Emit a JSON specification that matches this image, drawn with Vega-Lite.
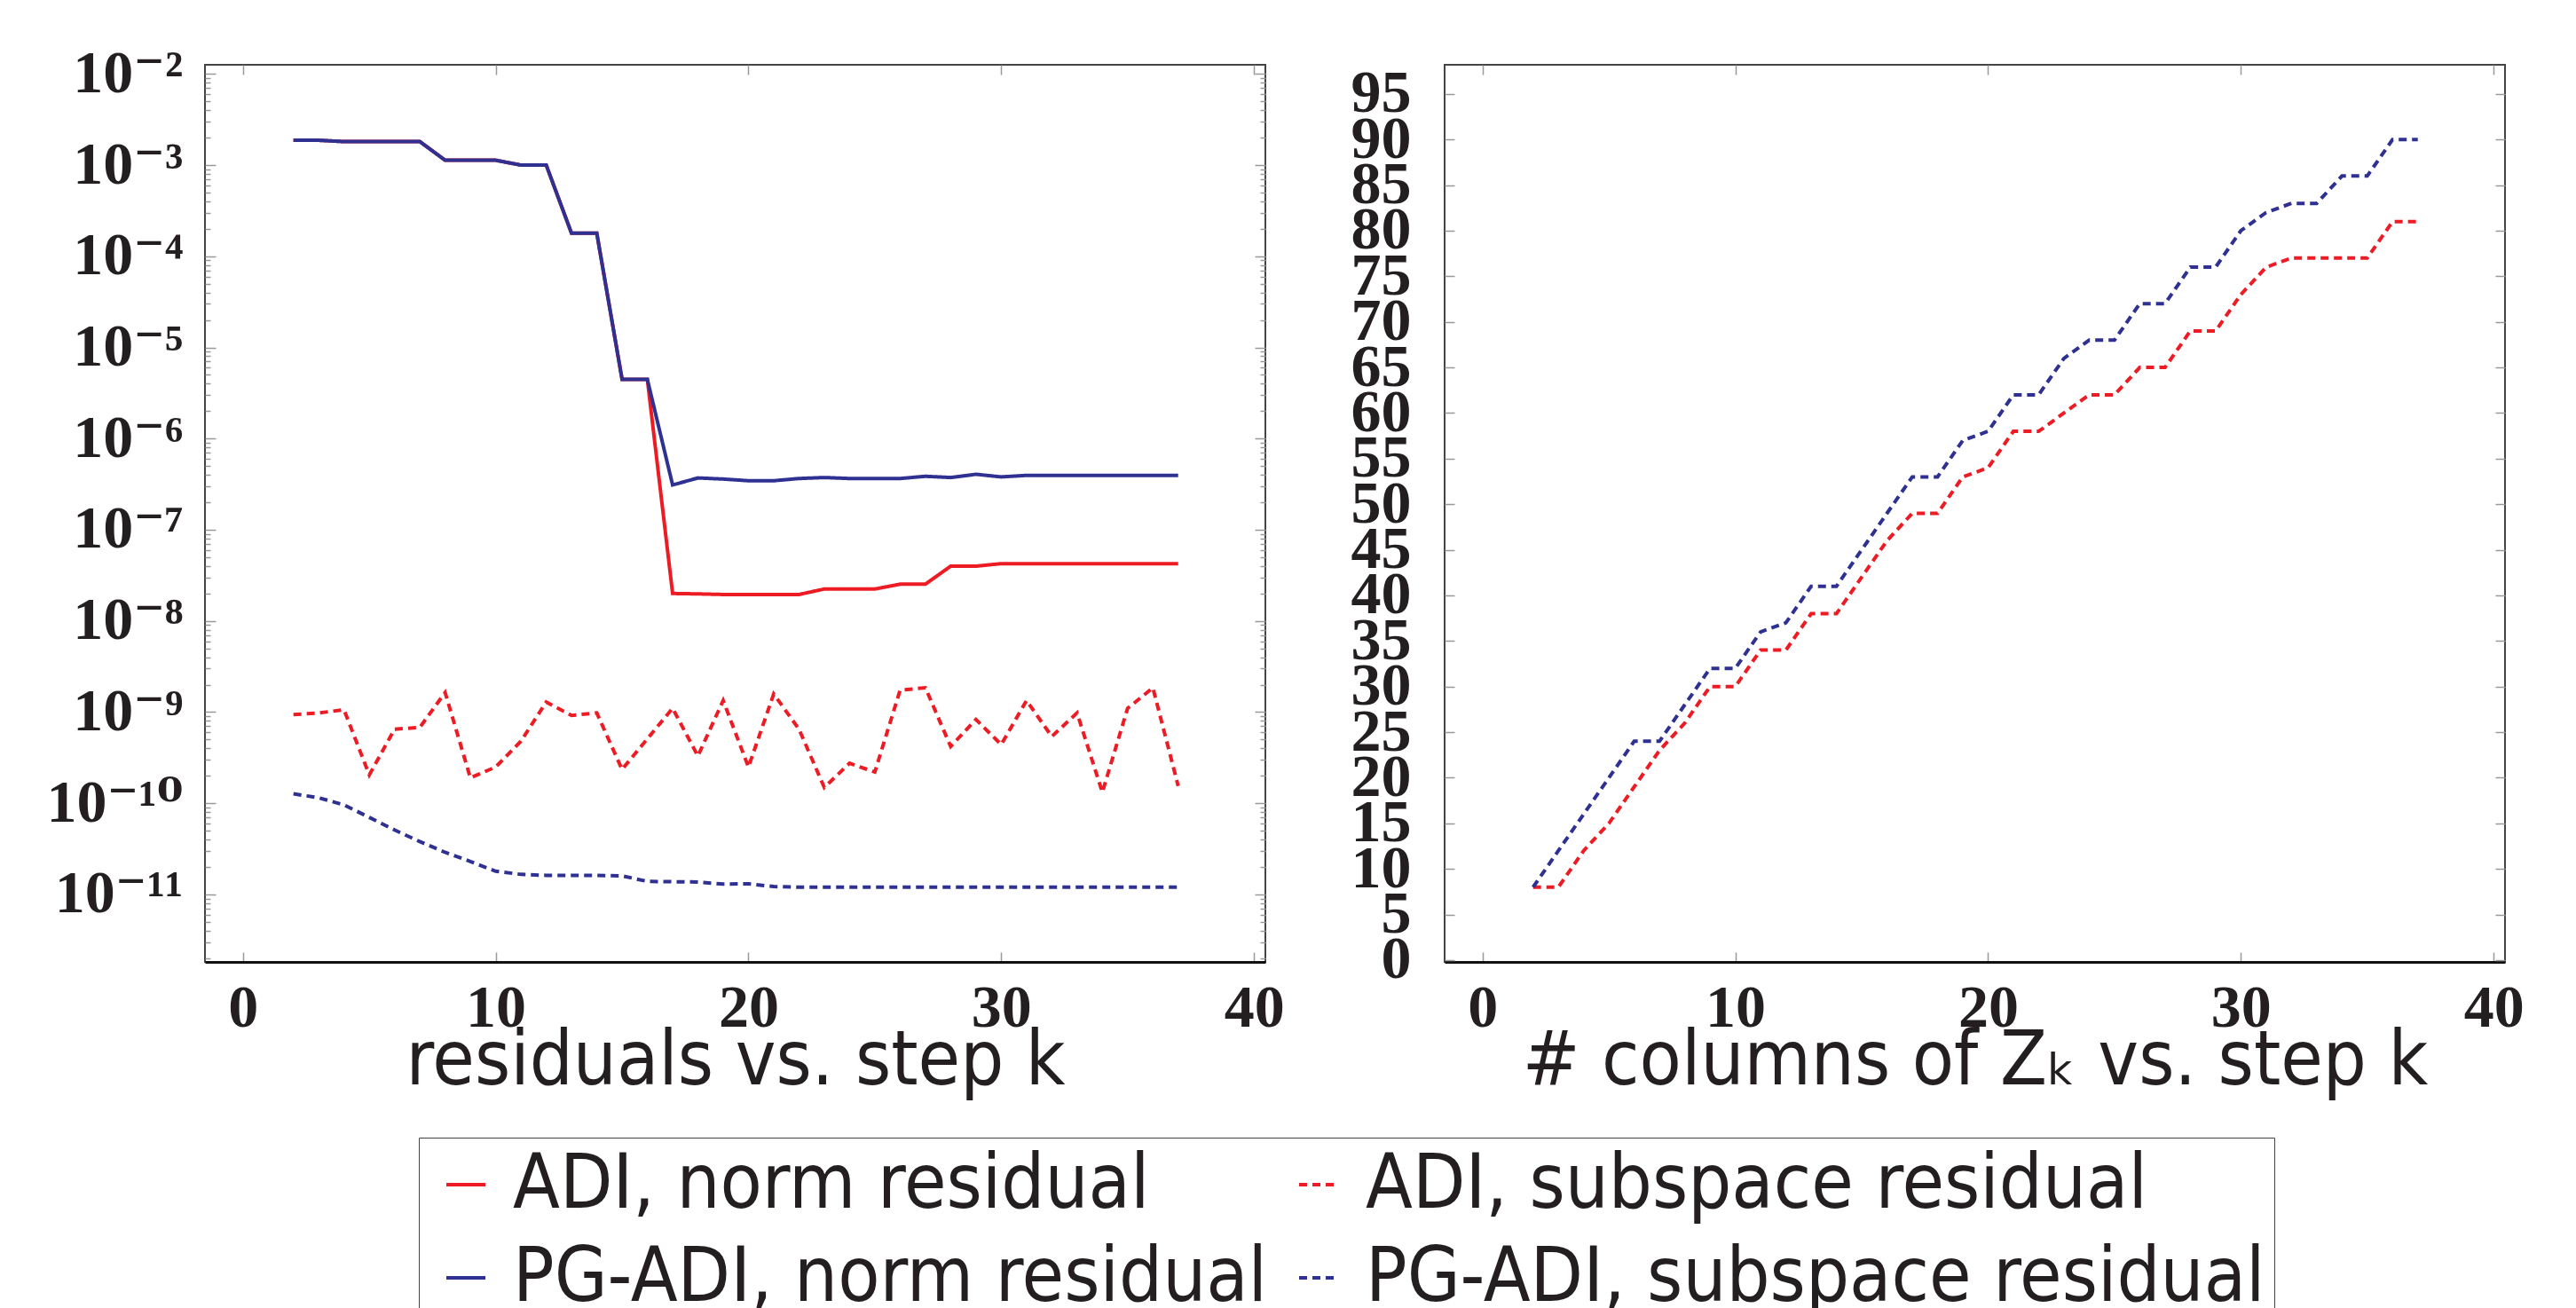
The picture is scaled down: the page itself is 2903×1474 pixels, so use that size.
{
  "$schema": "https://vega.github.io/schema/vega-lite/v6.json",
  "background": "white",
  "padding": {"left": 50, "top": 48, "right": 0, "bottom": 0},
  "spacing": 72,
  "datasets": {
    "residuals": [
      {"k":2,"series":"ADI, norm residual","value":1.87e-3},{"k":3,"series":"ADI, norm residual","value":1.87e-3},{"k":4,"series":"ADI, norm residual","value":1.81e-3},{"k":5,"series":"ADI, norm residual","value":1.81e-3},{"k":6,"series":"ADI, norm residual","value":1.81e-3},{"k":7,"series":"ADI, norm residual","value":1.81e-3},{"k":8,"series":"ADI, norm residual","value":1.13e-3},{"k":9,"series":"ADI, norm residual","value":1.13e-3},{"k":10,"series":"ADI, norm residual","value":1.13e-3},{"k":11,"series":"ADI, norm residual","value":1.0e-3},{"k":12,"series":"ADI, norm residual","value":1.0e-3},{"k":13,"series":"ADI, norm residual","value":1.79e-4},{"k":14,"series":"ADI, norm residual","value":1.79e-4},{"k":15,"series":"ADI, norm residual","value":4.47e-6},{"k":16,"series":"ADI, norm residual","value":4.47e-6},{"k":17,"series":"ADI, norm residual","value":2.0e-8},{"k":18,"series":"ADI, norm residual","value":1.98e-8},{"k":19,"series":"ADI, norm residual","value":1.95e-8},{"k":20,"series":"ADI, norm residual","value":1.95e-8},{"k":21,"series":"ADI, norm residual","value":1.95e-8},{"k":22,"series":"ADI, norm residual","value":1.95e-8},{"k":23,"series":"ADI, norm residual","value":2.24e-8},{"k":24,"series":"ADI, norm residual","value":2.24e-8},{"k":25,"series":"ADI, norm residual","value":2.24e-8},{"k":26,"series":"ADI, norm residual","value":2.53e-8},{"k":27,"series":"ADI, norm residual","value":2.53e-8},{"k":28,"series":"ADI, norm residual","value":3.99e-8},{"k":29,"series":"ADI, norm residual","value":3.99e-8},{"k":30,"series":"ADI, norm residual","value":4.25e-8},{"k":31,"series":"ADI, norm residual","value":4.25e-8},{"k":32,"series":"ADI, norm residual","value":4.25e-8},{"k":33,"series":"ADI, norm residual","value":4.25e-8},{"k":34,"series":"ADI, norm residual","value":4.25e-8},{"k":35,"series":"ADI, norm residual","value":4.25e-8},{"k":36,"series":"ADI, norm residual","value":4.25e-8},{"k":37,"series":"ADI, norm residual","value":4.25e-8},
      {"k":2,"series":"ADI, subspace residual","value":9.4e-10},{"k":3,"series":"ADI, subspace residual","value":9.8e-10},{"k":4,"series":"ADI, subspace residual","value":1.06e-9},{"k":5,"series":"ADI, subspace residual","value":2.05e-10},{"k":6,"series":"ADI, subspace residual","value":6.5e-10},{"k":7,"series":"ADI, subspace residual","value":6.8e-10},{"k":8,"series":"ADI, subspace residual","value":1.64e-9},{"k":9,"series":"ADI, subspace residual","value":1.9e-10},{"k":10,"series":"ADI, subspace residual","value":2.5e-10},{"k":11,"series":"ADI, subspace residual","value":4.8e-10},{"k":12,"series":"ADI, subspace residual","value":1.29e-9},{"k":13,"series":"ADI, subspace residual","value":9.2e-10},{"k":14,"series":"ADI, subspace residual","value":9.8e-10},{"k":15,"series":"ADI, subspace residual","value":2.35e-10},{"k":16,"series":"ADI, subspace residual","value":5.1e-10},{"k":17,"series":"ADI, subspace residual","value":1.1e-9},{"k":18,"series":"ADI, subspace residual","value":3.3e-10},{"k":19,"series":"ADI, subspace residual","value":1.34e-9},{"k":20,"series":"ADI, subspace residual","value":2.5e-10},{"k":21,"series":"ADI, subspace residual","value":1.58e-9},{"k":22,"series":"ADI, subspace residual","value":6.5e-10},{"k":23,"series":"ADI, subspace residual","value":1.49e-10},{"k":24,"series":"ADI, subspace residual","value":2.75e-10},{"k":25,"series":"ADI, subspace residual","value":2.2e-10},{"k":26,"series":"ADI, subspace residual","value":1.74e-9},{"k":27,"series":"ADI, subspace residual","value":1.85e-9},{"k":28,"series":"ADI, subspace residual","value":4.2e-10},{"k":29,"series":"ADI, subspace residual","value":8.3e-10},{"k":30,"series":"ADI, subspace residual","value":4.4e-10},{"k":31,"series":"ADI, subspace residual","value":1.34e-9},{"k":32,"series":"ADI, subspace residual","value":5.4e-10},{"k":33,"series":"ADI, subspace residual","value":9.8e-10},{"k":34,"series":"ADI, subspace residual","value":1.32e-10},{"k":35,"series":"ADI, subspace residual","value":1.1e-9},{"k":36,"series":"ADI, subspace residual","value":1.85e-9},{"k":37,"series":"ADI, subspace residual","value":1.55e-10},
      {"k":2,"series":"PG-ADI, norm residual","value":1.87e-3},{"k":3,"series":"PG-ADI, norm residual","value":1.87e-3},{"k":4,"series":"PG-ADI, norm residual","value":1.81e-3},{"k":5,"series":"PG-ADI, norm residual","value":1.81e-3},{"k":6,"series":"PG-ADI, norm residual","value":1.81e-3},{"k":7,"series":"PG-ADI, norm residual","value":1.81e-3},{"k":8,"series":"PG-ADI, norm residual","value":1.13e-3},{"k":9,"series":"PG-ADI, norm residual","value":1.13e-3},{"k":10,"series":"PG-ADI, norm residual","value":1.13e-3},{"k":11,"series":"PG-ADI, norm residual","value":1.0e-3},{"k":12,"series":"PG-ADI, norm residual","value":1.0e-3},{"k":13,"series":"PG-ADI, norm residual","value":1.79e-4},{"k":14,"series":"PG-ADI, norm residual","value":1.79e-4},{"k":15,"series":"PG-ADI, norm residual","value":4.47e-6},{"k":16,"series":"PG-ADI, norm residual","value":4.47e-6},{"k":17,"series":"PG-ADI, norm residual","value":3.1e-7},{"k":18,"series":"PG-ADI, norm residual","value":3.7e-7},{"k":19,"series":"PG-ADI, norm residual","value":3.6e-7},{"k":20,"series":"PG-ADI, norm residual","value":3.45e-7},{"k":21,"series":"PG-ADI, norm residual","value":3.45e-7},{"k":22,"series":"PG-ADI, norm residual","value":3.65e-7},{"k":23,"series":"PG-ADI, norm residual","value":3.74e-7},{"k":24,"series":"PG-ADI, norm residual","value":3.65e-7},{"k":25,"series":"PG-ADI, norm residual","value":3.65e-7},{"k":26,"series":"PG-ADI, norm residual","value":3.65e-7},{"k":27,"series":"PG-ADI, norm residual","value":3.86e-7},{"k":28,"series":"PG-ADI, norm residual","value":3.74e-7},{"k":29,"series":"PG-ADI, norm residual","value":4.06e-7},{"k":30,"series":"PG-ADI, norm residual","value":3.8e-7},{"k":31,"series":"PG-ADI, norm residual","value":3.95e-7},{"k":32,"series":"PG-ADI, norm residual","value":3.95e-7},{"k":33,"series":"PG-ADI, norm residual","value":3.95e-7},{"k":34,"series":"PG-ADI, norm residual","value":3.95e-7},{"k":35,"series":"PG-ADI, norm residual","value":3.95e-7},{"k":36,"series":"PG-ADI, norm residual","value":3.95e-7},{"k":37,"series":"PG-ADI, norm residual","value":3.95e-7},
      {"k":2,"series":"PG-ADI, subspace residual","value":1.27e-10},{"k":3,"series":"PG-ADI, subspace residual","value":1.15e-10},{"k":4,"series":"PG-ADI, subspace residual","value":9.6e-11},{"k":5,"series":"PG-ADI, subspace residual","value":7.0e-11},{"k":6,"series":"PG-ADI, subspace residual","value":5.1e-11},{"k":7,"series":"PG-ADI, subspace residual","value":3.8e-11},{"k":8,"series":"PG-ADI, subspace residual","value":2.9e-11},{"k":9,"series":"PG-ADI, subspace residual","value":2.3e-11},{"k":10,"series":"PG-ADI, subspace residual","value":1.8e-11},{"k":11,"series":"PG-ADI, subspace residual","value":1.66e-11},{"k":12,"series":"PG-ADI, subspace residual","value":1.62e-11},{"k":13,"series":"PG-ADI, subspace residual","value":1.62e-11},{"k":14,"series":"PG-ADI, subspace residual","value":1.62e-11},{"k":15,"series":"PG-ADI, subspace residual","value":1.6e-11},{"k":16,"series":"PG-ADI, subspace residual","value":1.39e-11},{"k":17,"series":"PG-ADI, subspace residual","value":1.38e-11},{"k":18,"series":"PG-ADI, subspace residual","value":1.37e-11},{"k":19,"series":"PG-ADI, subspace residual","value":1.3e-11},{"k":20,"series":"PG-ADI, subspace residual","value":1.31e-11},{"k":21,"series":"PG-ADI, subspace residual","value":1.22e-11},{"k":22,"series":"PG-ADI, subspace residual","value":1.2e-11},{"k":23,"series":"PG-ADI, subspace residual","value":1.2e-11},{"k":24,"series":"PG-ADI, subspace residual","value":1.2e-11},{"k":25,"series":"PG-ADI, subspace residual","value":1.2e-11},{"k":26,"series":"PG-ADI, subspace residual","value":1.2e-11},{"k":27,"series":"PG-ADI, subspace residual","value":1.2e-11},{"k":28,"series":"PG-ADI, subspace residual","value":1.2e-11},{"k":29,"series":"PG-ADI, subspace residual","value":1.2e-11},{"k":30,"series":"PG-ADI, subspace residual","value":1.2e-11},{"k":31,"series":"PG-ADI, subspace residual","value":1.2e-11},{"k":32,"series":"PG-ADI, subspace residual","value":1.2e-11},{"k":33,"series":"PG-ADI, subspace residual","value":1.2e-11},{"k":34,"series":"PG-ADI, subspace residual","value":1.2e-11},{"k":35,"series":"PG-ADI, subspace residual","value":1.2e-11},{"k":36,"series":"PG-ADI, subspace residual","value":1.2e-11},{"k":37,"series":"PG-ADI, subspace residual","value":1.2e-11}
    ],
    "columns": [
      {"k":2,"method":"ADI","cols":8},{"k":3,"method":"ADI","cols":8},{"k":4,"method":"ADI","cols":12},{"k":5,"method":"ADI","cols":15},{"k":6,"method":"ADI","cols":19},{"k":7,"method":"ADI","cols":23},{"k":8,"method":"ADI","cols":26},{"k":9,"method":"ADI","cols":30},{"k":10,"method":"ADI","cols":30},{"k":11,"method":"ADI","cols":34},{"k":12,"method":"ADI","cols":34},{"k":13,"method":"ADI","cols":38},{"k":14,"method":"ADI","cols":38},{"k":15,"method":"ADI","cols":42},{"k":16,"method":"ADI","cols":46},{"k":17,"method":"ADI","cols":49},{"k":18,"method":"ADI","cols":49},{"k":19,"method":"ADI","cols":53},{"k":20,"method":"ADI","cols":54},{"k":21,"method":"ADI","cols":58},{"k":22,"method":"ADI","cols":58},{"k":23,"method":"ADI","cols":60},{"k":24,"method":"ADI","cols":62},{"k":25,"method":"ADI","cols":62},{"k":26,"method":"ADI","cols":65},{"k":27,"method":"ADI","cols":65},{"k":28,"method":"ADI","cols":69},{"k":29,"method":"ADI","cols":69},{"k":30,"method":"ADI","cols":73},{"k":31,"method":"ADI","cols":76},{"k":32,"method":"ADI","cols":77},{"k":33,"method":"ADI","cols":77},{"k":34,"method":"ADI","cols":77},{"k":35,"method":"ADI","cols":77},{"k":36,"method":"ADI","cols":81},{"k":37,"method":"ADI","cols":81},
      {"k":2,"method":"PG-ADI","cols":8},{"k":3,"method":"PG-ADI","cols":12},{"k":4,"method":"PG-ADI","cols":16},{"k":5,"method":"PG-ADI","cols":20},{"k":6,"method":"PG-ADI","cols":24},{"k":7,"method":"PG-ADI","cols":24},{"k":8,"method":"PG-ADI","cols":28},{"k":9,"method":"PG-ADI","cols":32},{"k":10,"method":"PG-ADI","cols":32},{"k":11,"method":"PG-ADI","cols":36},{"k":12,"method":"PG-ADI","cols":37},{"k":13,"method":"PG-ADI","cols":41},{"k":14,"method":"PG-ADI","cols":41},{"k":15,"method":"PG-ADI","cols":45},{"k":16,"method":"PG-ADI","cols":49},{"k":17,"method":"PG-ADI","cols":53},{"k":18,"method":"PG-ADI","cols":53},{"k":19,"method":"PG-ADI","cols":57},{"k":20,"method":"PG-ADI","cols":58},{"k":21,"method":"PG-ADI","cols":62},{"k":22,"method":"PG-ADI","cols":62},{"k":23,"method":"PG-ADI","cols":66},{"k":24,"method":"PG-ADI","cols":68},{"k":25,"method":"PG-ADI","cols":68},{"k":26,"method":"PG-ADI","cols":72},{"k":27,"method":"PG-ADI","cols":72},{"k":28,"method":"PG-ADI","cols":76},{"k":29,"method":"PG-ADI","cols":76},{"k":30,"method":"PG-ADI","cols":80},{"k":31,"method":"PG-ADI","cols":82},{"k":32,"method":"PG-ADI","cols":83},{"k":33,"method":"PG-ADI","cols":83},{"k":34,"method":"PG-ADI","cols":86},{"k":35,"method":"PG-ADI","cols":86},{"k":36,"method":"PG-ADI","cols":90},{"k":37,"method":"PG-ADI","cols":90}
    ]
  },
  "hconcat": [
    {
      "width": 1195,
      "height": 1011,
      "data": {"name": "residuals"},
      "layer": [
        {
          "mark": {"type": "line", "strokeWidth": 4, "clip": true},
          "encoding": {
            "x": {"field": "k", "type": "quantitative", "scale": {"domain": [-1.5, 40.45], "nice": false, "zero": false},
              "axis": {"orient": "bottom", "values": [0, 10, 20, 30, 40], "title": "residuals vs.  step k", "labelPadding": 29, "tickSize": -11, "domain": true, "domainColor": "#111", "domainWidth": 3, "titlePadding": -17}},
            "y": {"field": "value", "type": "quantitative", "scale": {"type": "log", "domain": [1.82e-12, 1.259e-2], "nice": false},
              "axis": {"orient": "left", "title": null, "domain": false, "labelPadding": 37,
                "values": [2e-12,3e-12,4e-12,5e-12,6e-12,7e-12,8e-12,9e-12,1e-11,2e-11,3e-11,4e-11,5e-11,6e-11,7e-11,8e-11,9e-11,1e-10,2e-10,3e-10,4e-10,5e-10,6e-10,7e-10,8e-10,9e-10,1e-9,2e-9,3e-9,4e-9,5e-9,6e-9,7e-9,8e-9,9e-9,1e-8,2e-8,3e-8,4e-8,5e-8,6e-8,7e-8,8e-8,9e-8,1e-7,2e-7,3e-7,4e-7,5e-7,6e-7,7e-7,8e-7,9e-7,1e-6,2e-6,3e-6,4e-6,5e-6,6e-6,7e-6,8e-6,9e-6,1e-5,2e-5,3e-5,4e-5,5e-5,6e-5,7e-5,8e-5,9e-5,1e-4,2e-4,3e-4,4e-4,5e-4,6e-4,7e-4,8e-4,9e-4,1e-3,2e-3,3e-3,4e-3,5e-3,6e-3,7e-3,8e-3,9e-3,1e-2],
                "labelExpr": "abs(log(datum.value)/LN10 - round(log(datum.value)/LN10)) < 0.01 ? '10⁻' + ['','','²','³','⁴','⁵','⁶','⁷','⁸','⁹','¹⁰','¹¹','¹²'][-round(log(datum.value)/LN10)] : ''",
                "tickSize": {"condition": {"test": "abs(log(datum.value)/LN10 - round(log(datum.value)/LN10)) < 0.01", "value": -12}, "value": -6}}},
            "color": {"field": "series", "type": "nominal",
              "scale": {"domain": ["ADI, norm residual", "PG-ADI, norm residual", "ADI, subspace residual", "PG-ADI, subspace residual"], "range": ["#ED1C24", "#2E3192", "#ED1C24", "#2E3192"]},
              "legend": {"orient": "none", "legendX": 241, "legendY": 1209, "columns": 2, "title": null}},
            "strokeDash": {"field": "series", "type": "nominal",
              "scale": {"domain": ["ADI, norm residual", "PG-ADI, norm residual", "ADI, subspace residual", "PG-ADI, subspace residual"], "range": [[1, 0], [1, 0], [9, 6], [9, 6]]},
              "legend": {"orient": "none", "legendX": 241, "legendY": 1209, "columns": 2, "title": null}}
          }
        },
        {
          "mark": {"type": "point", "opacity": 0},
          "encoding": {
            "x": {"field": "k", "type": "quantitative", "axis": {"orient": "top", "values": [0, 10, 20, 30, 40], "labels": false, "title": null, "domain": false, "tickSize": -11}},
            "y": {"field": "value", "type": "quantitative",
              "axis": {"orient": "right", "labels": false, "title": null, "domain": false,
                "values": [2e-12,3e-12,4e-12,5e-12,6e-12,7e-12,8e-12,9e-12,1e-11,2e-11,3e-11,4e-11,5e-11,6e-11,7e-11,8e-11,9e-11,1e-10,2e-10,3e-10,4e-10,5e-10,6e-10,7e-10,8e-10,9e-10,1e-9,2e-9,3e-9,4e-9,5e-9,6e-9,7e-9,8e-9,9e-9,1e-8,2e-8,3e-8,4e-8,5e-8,6e-8,7e-8,8e-8,9e-8,1e-7,2e-7,3e-7,4e-7,5e-7,6e-7,7e-7,8e-7,9e-7,1e-6,2e-6,3e-6,4e-6,5e-6,6e-6,7e-6,8e-6,9e-6,1e-5,2e-5,3e-5,4e-5,5e-5,6e-5,7e-5,8e-5,9e-5,1e-4,2e-4,3e-4,4e-4,5e-4,6e-4,7e-4,8e-4,9e-4,1e-3,2e-3,3e-3,4e-3,5e-3,6e-3,7e-3,8e-3,9e-3,1e-2],
                "tickSize": {"condition": {"test": "abs(log(datum.value)/LN10 - round(log(datum.value)/LN10)) < 0.01", "value": -12}, "value": -6}}}
          }
        }
      ],
      "resolve": {"axis": {"x": "independent", "y": "independent"}}
    },
    {
      "width": 1195,
      "height": 1011,
      "data": {"name": "columns"},
      "layer": [
        {
          "transform": [{"filter": "datum.method === 'ADI'"}],
          "mark": {"type": "line", "strokeWidth": 4, "color": "#ED1C24", "strokeDash": [9, 6], "clip": true},
          "encoding": {
            "x": {"field": "k", "type": "quantitative", "scale": {"domain": [-1.5, 40.45], "nice": false, "zero": false},
              "axis": {"orient": "bottom", "values": [0, 10, 20, 30, 40], "title": "# columns of Zₖ vs.  step k", "labelPadding": 29, "tickSize": -11, "domain": true, "domainColor": "#111", "domainWidth": 3, "titlePadding": -17}},
            "y": {"field": "cols", "type": "quantitative", "scale": {"domain": [-0.2, 98.2], "nice": false, "zero": false},
              "axis": {"orient": "left", "title": null, "domain": false, "labelPadding": 49, "tickSize": -11,
                "values": [0,5,10,15,20,25,30,35,40,45,50,55,60,65,70,75,80,85,90,95]}}
          }
        },
        {
          "transform": [{"filter": "datum.method === 'PG-ADI'"}],
          "mark": {"type": "line", "strokeWidth": 4, "color": "#2E3192", "strokeDash": [9, 6], "clip": true},
          "encoding": {
            "x": {"field": "k", "type": "quantitative", "axis": {"orient": "top", "values": [0, 10, 20, 30, 40], "labels": false, "title": null, "domain": false, "tickSize": -11}},
            "y": {"field": "cols", "type": "quantitative",
              "axis": {"orient": "right", "labels": false, "title": null, "domain": false, "tickSize": -11,
                "values": [0,5,10,15,20,25,30,35,40,45,50,55,60,65,70,75,80,85,90,95]}}
          }
        }
      ],
      "resolve": {"axis": {"x": "independent", "y": "independent"}}
    }
  ],
  "config": {
    "view": {"stroke": "#444", "strokeWidth": 2},
    "axis": {
      "grid": false,
      "tickColor": "#999",
      "tickWidth": 1.5,
      "labelFont": "Liberation Serif, DejaVu Serif",
      "labelFontWeight": "bold",
      "labelFontSize": 68,
      "labelColor": "#231f20",
      "labelOverlap": false,
      "labelFlush": false,
      "labelBound": false,
      "titleFont": "DejaVu Sans Condensed, DejaVu Sans",
      "titleFontSize": 86,
      "titleFontWeight": "normal",
      "titleColor": "#231f20"
    },
    "legend": {
      "labelFont": "DejaVu Sans Condensed, DejaVu Sans",
      "labelFontSize": 86,
      "labelColor": "#231f20",
      "labelLimit": 0,
      "labelOffset": 10,
      "symbolType": "stroke",
      "symbolSize": 1936,
      "symbolStrokeWidth": 4,
      "strokeColor": "#444",
      "fillColor": "white",
      "padding": 10,
      "rowPadding": 19,
      "columnPadding": 14
    }
  }
}
